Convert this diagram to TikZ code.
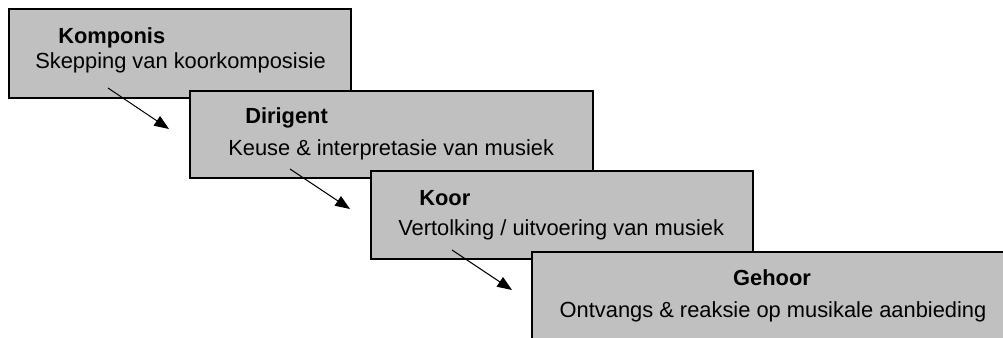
\documentclass[tikz,border=0pt]{standalone}
\usepackage{fontspec}
\setmainfont{Liberation Sans}
\usetikzlibrary{arrows.meta,fit}
\definecolor{boxgrey}{HTML}{C0C0C0}
\begin{document}
\begin{tikzpicture}[x=0.75pt, y=-0.75pt, every node/.style={font=\fontsize{16.4}{19}\selectfont},
  stage/.style={draw=black,fill=boxgrey,line width=1.1pt,inner sep=0pt},
  title/.style={anchor=base west,inner sep=0pt,font=\fontsize{16.4}{19}\selectfont\bfseries},
  desc/.style={anchor=base west,inner sep=0pt},
  flow/.style={-{Triangle[length=11pt,width=8.5pt]},line width=0.75pt}]
\useasboundingbox (0,0) rectangle (1003,337);
\clip (0,0) rectangle (1003,337);
% stages
\node[stage,fit={(9,9) (351,98)}] (komponis) {};
\node[stage,fit={(190,91) (593,178)}] (dirigent) {};
\node[stage,fit={(371,171) (753,259)}] (koor) {};
\node[stage,fit={(532,252) (1016,350)}] (gehoor) {};
% texts
\node[title] (t1) at (58,43) {Komponis};
\node[desc] (d1) at (35,68) {Skepping van koorkomposisie};
\node[title] (t2) at (245,123) {Dirigent};
\node[desc] (d2) at (228,155) {Keuse \& interpretasie van musiek};
\node[title] (t3) at (419,205) {Koor};
\node[desc] (d3) at (398,235) {Vertolking / uitvoering van musiek};
\node[title,anchor=base] (t4) at (772,285) {Gehoor};
\node[desc,anchor=base] (d4) at (773,317) {Ontvangs \& reaksie op musikale aanbieding};
% arrows
\coordinate (a1) at (108,88); \coordinate (b1) at (169,129);
\coordinate (a2) at (290,169); \coordinate (b2) at (350,209);
\coordinate (a3) at (452,250); \coordinate (b3) at (512,290);
\draw[flow] (a1) -- (b1);
\draw[flow] (a2) -- (b2);
\draw[flow] (a3) -- (b3);
\end{tikzpicture}
\end{document}
